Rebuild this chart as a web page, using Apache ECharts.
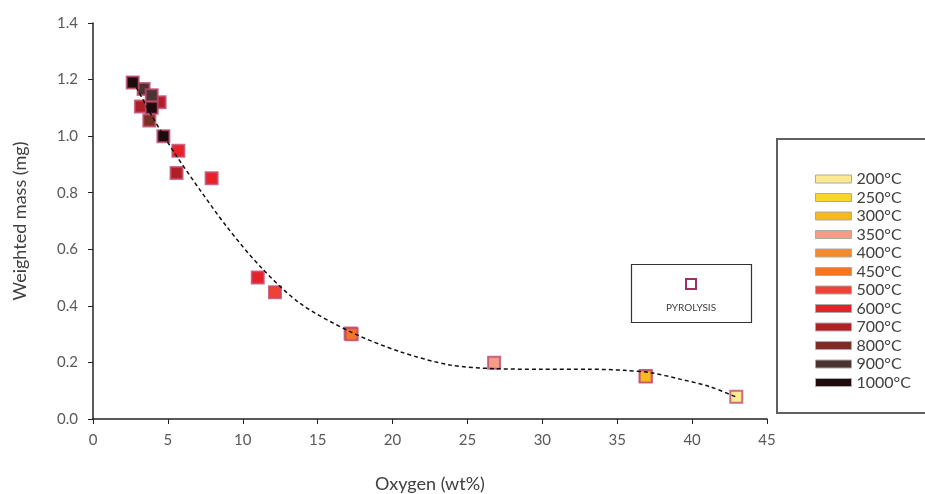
<!DOCTYPE html>
<html>
<head>
<meta charset="utf-8">
<script src="https://cdn.jsdelivr.net/npm/echarts@6/dist/echarts.min.js"></script>
<style>html,body{margin:0;padding:0;background:#fff;}#c{width:925px;height:494px;}</style>
</head>
<body>
<div id="c"></div>
<script>
// Temperatures (legend) and their colours
const temps = ['200°C','250°C','300°C','350°C','400°C','450°C','500°C','600°C','700°C','800°C','900°C','1000°C'];
const colors = ['#fbea92','#fcd42c','#f8b91e','#f49d86','#f58b2c','#f27623','#ee4236','#e82128','#b11f26','#7a2f25','#4a3331','#1f0b0b'];

// [oxygen wt%, weighted mass mg] per temperature
const t200 = [[42.95, 0.079]];
const t250 = [[36.9, 0.152]];
const t300 = [[36.9, 0.15]];
const t350 = [[26.78, 0.199]];
const t400 = [[17.2, 0.302]];
const t450 = [[17.27, 0.30]];
const t500 = [[12.15, 0.448]];
const t600 = [[5.7, 0.948], [7.92, 0.851], [11.0, 0.50]];
const t700 = [[3.2, 1.105], [4.45, 1.12], [5.58, 0.87]];
const t800 = [[3.76, 1.055]];
const t900 = [[3.38, 1.167], [3.92, 1.145]];
const t1000 = [[2.65, 1.19], [3.92, 1.10], [4.7, 1.0]];
const tempData = [t200,t250,t300,t350,t400,t450,t500,t600,t700,t800,t900,t1000];

// Trend line
const trend = [[2.67,1.195],[4.0,1.065],[5.5,0.936],[7.14,0.81],[8.93,0.68],[11.2,0.537],[13.82,0.409],[17.16,0.309],[20.49,0.238],[23.83,0.191],[26.8,0.178],[29.84,0.176],[33.18,0.176],[35.5,0.172],[37.2,0.164],[39.2,0.141],[41.2,0.114],[42.97,0.077]];

// Axis ticks
const xTicks = [0,5,10,15,20,25,30,35,40,45];
const yTicks = [0,0.2,0.4,0.6,0.8,1.0,1.2,1.4];

const FONT = 'Lato';
const chart = echarts.init(document.getElementById('c'));

const series = temps.map((t,i)=>({
  name: t,
  type: 'scatter',
  symbol: 'rect',
  symbolSize: 12,
  data: tempData[i],
  z: 2,
  itemStyle: {color: colors[i], borderColor: 'rgba(192,72,110,0.8)', borderWidth: 2, opacity: 1},
  emphasis: {disabled: true}
}));
series.push({
  name: 'trend',
  type: 'line',
  data: trend,
  smooth: 0.3,
  showSymbol: false,
  symbol: 'none',
  z: 5,
  lineStyle: {color: '#111', width: 1.5, type: [4,3]},
  silent: true
});

chart.setOption({
  animation: false,
  backgroundColor: '#fff',
  textStyle: {fontFamily: FONT},
  grid: {left: 93, right: 158, top: 23, bottom: 75, containLabel: false, outerBoundsMode: 'none'},
  xAxis: {
    type: 'value', min: xTicks[0], max: xTicks[xTicks.length-1], interval: 5,
    name: 'Oxygen (wt%)', nameLocation: 'middle', nameGap: 56,
    nameTextStyle: {fontFamily: FONT, fontSize: 18, color: '#404040'},
    axisLine: {show: true, lineStyle: {color: '#222', width: 1.5}},
    axisTick: {show: true, length: 5, lineStyle: {color: '#222'}},
    axisLabel: {fontFamily: FONT, fontSize: 15, color: '#595959', margin: 14},
    splitLine: {show: false}
  },
  yAxis: {
    type: 'value', min: yTicks[0], max: yTicks[yTicks.length-1], interval: 0.2,
    name: 'Weighted mass (mg)', nameLocation: 'middle', nameGap: 64,
    nameTextStyle: {fontFamily: FONT, fontSize: 18, color: '#404040'},
    axisLine: {show: true, lineStyle: {color: '#222', width: 1.5}},
    axisTick: {show: true, length: 5, lineStyle: {color: '#222'}},
    axisLabel: {fontFamily: FONT, fontSize: 15, color: '#595959', margin: 15, formatter: v => v.toFixed(1)},
    splitLine: {show: false}
  },
  legend: {
    data: temps,
    orient: 'vertical',
    left: 810, top: 166,
    icon: 'rect',
    itemWidth: 36, itemHeight: 8, itemGap: 2.5,
    itemStyle: {borderColor: '#aaa', borderWidth: 1},
    textStyle: {fontFamily: FONT, fontSize: 16, color: '#404040'},
    selectedMode: false
  },
  graphic: [
    {type: 'rect', shape: {x: 777, y: 139, width: 160, height: 274}, style: {fill: 'none', stroke: '#606060', lineWidth: 2}, z: 0},
    {type: 'rect', shape: {x: 631.5, y: 264.5, width: 120, height: 58}, style: {fill: 'none', stroke: '#333', lineWidth: 1.2}, z: 0},
    {type: 'rect', shape: {x: 686, y: 279, width: 10, height: 10}, style: {fill: '#fff', stroke: '#a0305f', lineWidth: 2}, z: 1},
    {type: 'text', x: 691, y: 308, style: {text: 'PYROLYSIS', fontFamily: FONT, fontSize: 10, fill: '#404040', align: 'center', verticalAlign: 'middle'}, z: 1}
  ],
  series: series
});
</script>
</body>
</html>
